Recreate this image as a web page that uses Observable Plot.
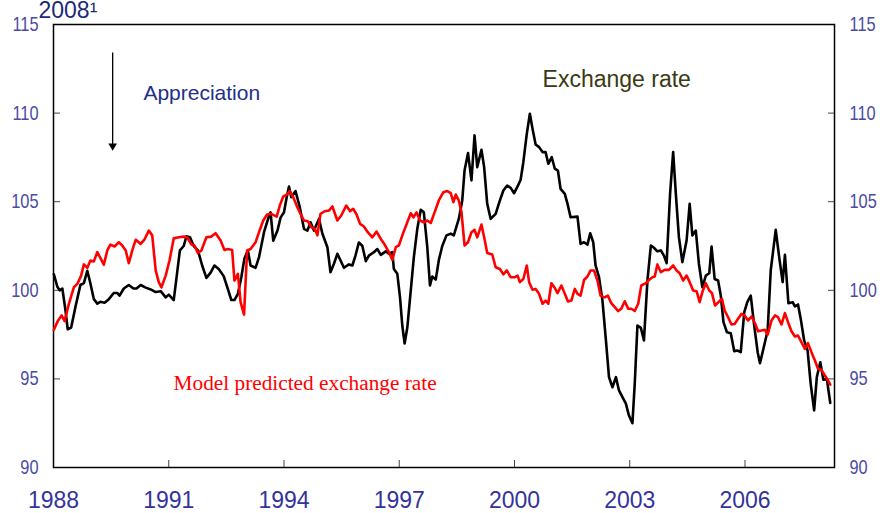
<!DOCTYPE html>
<html><head><meta charset="utf-8">
<script src="https://cdn.jsdelivr.net/npm/d3@7"></script>
<script src="https://cdn.jsdelivr.net/npm/@observablehq/plot@0.6"></script>
<style>html,body{margin:0;padding:0;background:#fff}</style>
</head><body><div id="chart"></div>
<script>
const title = "2008¹";
const yTicks = [90, 95, 100, 105, 110, 115];
const xTicks = [1988, 1991, 1994, 1997, 2000, 2003, 2006];

const exchYears = [1988.01,1988.10,1988.16,1988.23,1988.31,1988.37,1988.46,1988.57,1988.70,1988.79,1988.88,1988.96,1989.05,1989.14,1989.22,1989.33,1989.44,1989.57,1989.66,1989.72,1989.83,1989.96,1990.08,1990.16,1990.27,1990.40,1990.53,1990.66,1990.79,1990.92,1991.00,1991.13,1991.29,1991.39,1991.46,1991.55,1991.65,1991.76,1991.87,1991.98,1992.09,1992.19,1992.30,1992.43,1992.52,1992.63,1992.71,1992.80,1992.89,1992.97,1993.06,1993.13,1993.26,1993.35,1993.48,1993.61,1993.65,1993.72,1993.83,1993.91,1994.00,1994.07,1994.13,1994.19,1994.30,1994.41,1994.52,1994.61,1994.69,1994.78,1994.91,1995.00,1995.13,1995.21,1995.30,1995.39,1995.56,1995.69,1995.78,1995.86,1995.95,1996.04,1996.13,1996.21,1996.34,1996.43,1996.52,1996.65,1996.73,1996.82,1996.86,1996.95,1997.02,1997.08,1997.14,1997.21,1997.30,1997.38,1997.47,1997.56,1997.64,1997.73,1997.80,1997.86,1997.95,1998.03,1998.12,1998.23,1998.34,1998.42,1998.55,1998.64,1998.70,1998.79,1998.88,1998.96,1999.03,1999.14,1999.21,1999.29,1999.38,1999.51,1999.62,1999.71,1999.81,1999.90,1999.99,2000.08,2000.16,2000.23,2000.32,2000.40,2000.47,2000.55,2000.64,2000.73,2000.81,2000.88,2000.97,2001.05,2001.13,2001.20,2001.31,2001.38,2001.46,2001.64,2001.72,2001.81,2001.90,2001.97,2002.05,2002.11,2002.20,2002.29,2002.38,2002.46,2002.55,2002.64,2002.72,2002.81,2002.90,2002.98,2003.07,2003.13,2003.20,2003.29,2003.37,2003.46,2003.55,2003.63,2003.72,2003.81,2003.89,2003.96,2004.05,2004.13,2004.20,2004.28,2004.37,2004.48,2004.56,2004.63,2004.72,2004.80,2004.89,2004.98,2005.07,2005.13,2005.21,2005.30,2005.37,2005.44,2005.53,2005.63,2005.72,2005.80,2005.89,2005.98,2006.06,2006.15,2006.24,2006.33,2006.39,2006.48,2006.59,2006.67,2006.80,2006.89,2006.98,2007.04,2007.13,2007.24,2007.30,2007.38,2007.45,2007.54,2007.63,2007.71,2007.80,2007.87,2007.96,2008.04,2008.13,2008.22];
const exchValues = [100.9,100.2,100.0,100.1,98.9,97.8,97.9,99.05,100.3,100.4,101.1,100.4,99.5,99.25,99.35,99.3,99.5,99.85,99.85,99.7,100.1,100.3,100.1,100.1,100.3,100.15,100.05,99.9,99.95,99.6,99.75,99.45,102.25,102.5,103.05,103.0,102.5,102.25,101.4,100.7,101.0,101.4,101.2,100.8,100.2,99.45,99.45,99.8,100.75,101.8,102.25,101.4,101.27,101.87,103.28,104.2,104.4,102.8,103.37,104.1,104.4,105.25,105.85,105.25,105.6,104.7,103.47,103.37,103.84,103.37,104.03,103.19,102.43,101.02,101.5,102.06,101.27,101.46,101.4,101.96,102.7,102.5,101.64,101.96,102.15,102.33,102.0,102.2,102.06,102.15,101.2,100.93,99.6,98.0,97.0,97.9,100.0,101.87,103.47,104.54,104.4,102.43,100.27,100.78,100.6,101.7,102.5,103.1,103.2,103.1,104.03,105.07,106.76,107.74,106.2,108.74,106.95,107.93,106.95,104.88,104.03,104.31,105.07,105.63,105.91,105.78,105.48,105.86,106.24,107.23,108.83,109.96,109.11,108.23,108.08,107.8,107.8,107.14,107.51,106.86,106.76,105.72,105.44,104.88,104.12,104.16,102.62,102.71,102.58,103.22,102.71,101.4,100.74,99.42,97.17,95.1,94.53,95.1,94.35,93.97,93.6,92.93,92.5,94.72,98.01,97.88,97.17,100.55,102.53,102.4,102.2,102.25,101.96,101.53,105.44,107.8,105.44,103.0,101.59,102.81,104.88,103.1,103.37,101.5,100.17,100.83,100.96,102.47,100.64,100.55,99.7,98.2,97.63,97.58,96.56,96.6,96.51,98.76,99.33,99.7,98.01,96.51,95.89,96.7,97.73,101.12,103.41,101.87,100.46,102.0,99.27,99.33,99.09,99.2,98.4,97.17,96.6,94.72,93.22,95.1,95.94,94.95,95.0,93.64];

const modelYears = [1988.01,1988.11,1988.21,1988.29,1988.40,1988.53,1988.62,1988.72,1988.79,1988.88,1988.96,1989.05,1989.14,1989.22,1989.31,1989.40,1989.48,1989.59,1989.70,1989.79,1989.88,1989.96,1990.05,1990.14,1990.27,1990.37,1990.48,1990.57,1990.66,1990.74,1990.81,1990.92,1991.02,1991.13,1991.26,1991.39,1991.48,1991.59,1991.67,1991.76,1991.85,1991.98,1992.11,1992.22,1992.35,1992.45,1992.54,1992.65,1992.71,1992.80,1992.87,1992.96,1993.04,1993.13,1993.26,1993.35,1993.46,1993.56,1993.67,1993.81,1993.89,1993.98,1994.07,1994.15,1994.24,1994.33,1994.43,1994.52,1994.62,1994.71,1994.80,1994.87,1994.95,1995.06,1995.17,1995.26,1995.39,1995.49,1995.62,1995.72,1995.80,1995.89,1995.98,1996.08,1996.18,1996.30,1996.41,1996.52,1996.62,1996.73,1996.82,1996.91,1996.99,1997.11,1997.21,1997.30,1997.37,1997.45,1997.54,1997.64,1997.73,1997.82,1997.92,1998.03,1998.15,1998.25,1998.34,1998.41,1998.47,1998.55,1998.62,1998.70,1998.79,1998.88,1998.96,1999.03,1999.14,1999.21,1999.29,1999.42,1999.51,1999.62,1999.71,1999.80,1999.90,2000.01,2000.08,2000.14,2000.23,2000.32,2000.38,2000.47,2000.55,2000.64,2000.73,2000.81,2000.88,2000.96,2001.05,2001.12,2001.22,2001.31,2001.39,2001.48,2001.57,2001.64,2001.72,2001.81,2001.90,2001.98,2002.07,2002.16,2002.24,2002.35,2002.43,2002.52,2002.61,2002.70,2002.78,2002.87,2002.96,2003.04,2003.13,2003.22,2003.30,2003.42,2003.50,2003.59,2003.65,2003.72,2003.81,2003.91,2004.02,2004.13,2004.22,2004.30,2004.39,2004.48,2004.56,2004.65,2004.74,2004.82,2004.89,2004.98,2005.07,2005.14,2005.22,2005.31,2005.40,2005.47,2005.56,2005.65,2005.73,2005.82,2005.91,2005.99,2006.08,2006.17,2006.26,2006.34,2006.43,2006.52,2006.59,2006.69,2006.78,2006.86,2006.95,2007.04,2007.12,2007.21,2007.30,2007.38,2007.47,2007.56,2007.64,2007.73,2007.82,2007.90,2007.99,2008.08,2008.16,2008.22];
const modelValues = [97.77,98.26,98.58,98.26,99.24,100.17,100.36,100.83,101.46,101.27,101.68,101.63,102.15,101.83,101.44,102.25,102.58,102.47,102.71,102.53,102.25,101.53,102.25,102.85,102.62,102.87,103.37,103.1,101.12,100.46,100.17,100.83,101.68,102.93,102.99,103.03,102.99,102.58,102.53,102.1,102.25,102.99,103.03,103.22,102.81,102.28,102.33,102.28,100.55,100.93,99.33,98.63,102.25,102.33,102.71,103.28,103.94,104.28,104.31,104.16,104.78,105.29,105.4,105.59,105.25,104.78,104.31,103.94,103.9,103.56,103.47,103.1,104.31,104.46,104.5,104.73,103.94,104.22,104.78,104.46,104.6,104.28,103.75,103.6,103.28,102.99,103.31,102.9,102.58,102.15,101.72,102.43,102.53,103.28,103.84,104.35,104.12,104.4,103.94,103.84,103.94,103.8,104.4,105.07,105.54,105.6,105.48,104.97,105.4,105.07,104.41,102.53,102.71,103.28,103.41,102.99,103.71,102.99,102.1,102.02,101.3,101.2,100.9,101.12,100.74,100.74,100.83,100.46,100.64,101.4,100.46,100.03,100.08,99.8,99.24,99.42,99.24,100.4,100.13,99.84,100.27,99.8,99.37,99.42,100.08,99.8,99.7,100.58,100.78,101.12,101.12,100.55,99.7,99.6,99.7,99.27,99.05,98.83,98.96,99.38,98.96,98.96,98.83,99.24,100.27,100.4,100.58,100.74,100.78,101.46,101.02,101.15,101.15,101.4,101.12,100.96,100.55,100.83,100.46,99.99,99.95,99.33,99.9,100.4,99.99,99.84,99.14,99.33,99.52,98.86,98.48,98.07,98.1,98.39,98.67,98.58,98.3,98.52,98.14,97.69,97.73,97.77,97.5,98.3,98.58,98.48,98.07,98.71,98.2,97.69,97.39,97.45,97.07,96.7,97.02,96.51,96.04,95.57,95.51,95.19,94.91,94.68];

// annotation anchors (data coordinates)
const seriesLabels = [
  {text: "Exchange rate", t: 2000.73, v: 111.9},
  {text: "Model predicted exchange rate", t: 1991.125, v: 94.77}
];
const noteLabel = {text: "Appreciation", t: 1990.34, v: 111.1};
const arrowNote = {t: 1989.54, from: 113.42, to: 108.15};

const exchData = exchYears.map((t, i) => ({t, v: exchValues[i]}));
const modelData = modelYears.map((t, i) => ({t, v: modelValues[i]}));

const sans = "'Liberation Sans', Arial, sans-serif";
const serif = "'Liberation Serif', 'Times New Roman', serif";

const chart = Plot.plot({
  width: 880, height: 513,
  marginLeft: 53, marginRight: 46, marginTop: 24, marginBottom: 46,
  x: {domain: [1988, 2008.33]},
  y: {domain: [90, 115]},
  style: {fontFamily: sans, background: "#fff", overflow: "visible"},
  marks: [
    Plot.axisY(yTicks, {anchor: "left", tickSize: -7, tickPadding: 22, fontSize: 20, fill: "#4b4ba6", stroke: "#444", label: null}),
    Plot.axisY(yTicks, {anchor: "right", tickSize: -7, tickPadding: 22, fontSize: 20, fill: "#4b4ba6", stroke: "#444", label: null}),
    Plot.axisX(xTicks, {anchor: "bottom", tickSize: -7, tickPadding: 31, fontSize: 23, fill: "#33339b", stroke: "#444", tickFormat: d => String(d), label: null}),
    Plot.frame({stroke: "#000", strokeWidth: 1.5}),
    Plot.line(exchData, {x: "t", y: "v", stroke: "#000", strokeWidth: 2.6, strokeLinejoin: "round"}),
    Plot.line(modelData, {x: "t", y: "v", stroke: "#ff0000", strokeWidth: 2.6, strokeLinejoin: "round"}),
    Plot.link([arrowNote], {x1: "t", x2: "t", y1: "from", y2: "to", stroke: "#000", strokeWidth: 1.3}),
    Plot.dot([arrowNote], {x: "t", y: "to", symbol: "triangle", r: 3.2, rotate: 180, fill: "#000", stroke: null}),
    Plot.text([noteLabel], {x: "t", y: "v", text: "text", textAnchor: "start", fontSize: 21, fontFamily: sans, fill: "#1f2f8a"}),
    Plot.text([seriesLabels[0]], {x: "t", y: "v", text: "text", textAnchor: "start", fontSize: 23, fontFamily: sans, fill: "#3a3a12"}),
    Plot.text([seriesLabels[1]], {x: "t", y: "v", text: "text", textAnchor: "start", fontSize: 21.3, fontFamily: serif, fill: "#ff0000"}),
    Plot.text([title], {frameAnchor: "top-left", dx: -15, dy: -13.5, lineAnchor: "middle", textAnchor: "start", fontSize: 23, fontFamily: sans, fill: "#1a2a78"})
  ]
});
// y tick labels in the reference use a narrow face: condense them horizontally
d3.select(chart).selectAll("g[aria-label='y-axis tick label'] text")
  .attr("transform", function() { return (this.getAttribute("transform") || "") + " scale(0.82,1)"; });
document.getElementById("chart").appendChild(chart);
</script>
</body></html>
